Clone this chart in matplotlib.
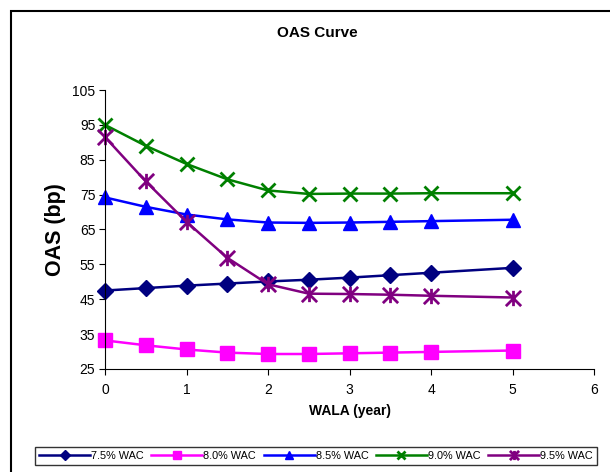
import matplotlib
matplotlib.use('Agg')
import matplotlib.pyplot as plt
from matplotlib.path import Path
from matplotlib.patches import Rectangle

plt.rcParams['font.family'] = ['Liberation Sans', 'DejaVu Sans']

wala = [0, 0.5, 1, 1.5, 2, 2.5, 3, 3.5, 4, 5]
wac75 = [47.5, 48.2, 48.9, 49.5, 50.1, 50.6, 51.2, 51.9, 52.6, 54.0]
wac80 = [33.2, 31.8, 30.6, 29.7, 29.3, 29.3, 29.5, 29.7, 29.9, 30.3]
wac85 = [74.2, 71.5, 69.3, 67.9, 67.0, 66.9, 67.0, 67.2, 67.4, 67.8]
wac90 = [95.0, 89.0, 83.8, 79.4, 76.2, 75.2, 75.3, 75.3, 75.4, 75.4]
wac95 = [91.5, 78.8, 67.2, 56.9, 49.3, 46.6, 46.5, 46.3, 46.0, 45.5]
names = ['7.5% WAC', '8.0% WAC', '8.5% WAC', '9.0% WAC', '9.5% WAC']

# excel style star: X with a vertical bar
star = Path([(0, -1), (0, 1), (-1, -1), (1, 1), (-1, 1), (1, -1)],
            [Path.MOVETO, Path.LINETO, Path.MOVETO, Path.LINETO, Path.MOVETO, Path.LINETO])

series = [
    (wac75, '#000080', 'D', 8, 1),
    (wac80, '#ff00ff', 's', 10, 1),
    (wac85, '#0000ff', '^', 10, 1),
    (wac90, '#008000', 'x', 10, 2),
    (wac95, '#800080', star, 11, 2),
]

fig = plt.figure(figsize=(6.1, 4.72), dpi=100)
fig.patches.append(Rectangle((11 / 610, -0.05), 1.2, 1 - 11 / 472 + 0.05,
                             transform=fig.transFigure, fill=False,
                             edgecolor='black', linewidth=1.5))
ax = fig.add_axes([105 / 610, 1 - 369 / 472, 489 / 610, 279 / 472])

for vals, col, mk, ms, mew in series:
    ax.plot(wala, vals, color=col, linewidth=1.8, marker=mk, markersize=ms,
            markeredgewidth=mew, markeredgecolor=col, markerfacecolor=col,
            clip_on=False)

ax.set_xlim(0, 6)
ax.set_ylim(25, 105)
ax.set_xticks(range(0, 7))
ax.set_yticks(range(25, 106, 10))
ax.spines['top'].set_visible(False)
ax.spines['right'].set_visible(False)
ax.tick_params(direction='out', length=4, labelsize=10)
ax.tick_params(axis='x', pad=6)
ax.tick_params(axis='y', pad=3)

fig.text(317 / 610, 1 - 33 / 472, 'OAS Curve', ha='center', va='center',
         fontsize=11, fontweight='bold')
ax.set_xlabel('WALA (year)', fontsize=10, fontweight='bold')
ax.xaxis.set_label_coords(0.501, -0.125)
ax.set_ylabel('OAS (bp)', fontsize=15.5, fontweight='bold')
ax.yaxis.set_label_coords(-0.08, 0.5)

leg = fig.legend(names, loc='center', bbox_to_anchor=(316 / 610, 1 - 456 / 472),
                 ncol=5, fontsize=7.8, frameon=True, fancybox=False,
                 edgecolor='black', handlelength=4.7, handletextpad=0.1,
                 columnspacing=0.7, borderpad=0.35, markerscale=0.6)
leg.get_frame().set_linewidth(1.0)

fig.savefig('out.png', dpi=100)
